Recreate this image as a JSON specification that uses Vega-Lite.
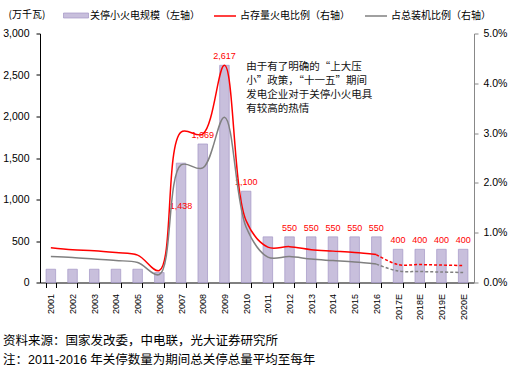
{
  "$schema": "https://vega.github.io/schema/vega-lite/v6.json",
  "width": 434,
  "height": 249,
  "autosize": {"type": "none"},
  "padding": {"left": 40, "top": 33.5, "right": 38, "bottom": 92.5},
  "background": "white",
  "config": {
    "view": {"stroke": null},
    "font": "Liberation Sans",
    "axis": {"grid": false, "labelColor": "#000", "labelFont": "Liberation Sans"},
    "legend": {"padding": 0}
  },
  "title": {
    "text": ["资料来源：国家发改委，中电联，光大证券研究所", "注：2011-2016 年关停数量为期间总关停总量平均至每年"],
    "orient": "bottom",
    "anchor": "start",
    "frame": "group",
    "dx": -37,
    "offset": 15.5,
    "lineHeight": 18.5,
    "font": "Liberation Sans, Noto Sans CJK SC",
    "fontSize": 12.5,
    "fontWeight": "normal",
    "color": "#000"
  },
  "data": {
    "values": [
      {"year": "2001", "cap": 160, "thermal": 0.0070, "total": 0.0052},
      {"year": "2002", "cap": 160, "thermal": 0.0066, "total": 0.0050},
      {"year": "2003", "cap": 160, "thermal": 0.0064, "total": 0.0047},
      {"year": "2004", "cap": 160, "thermal": 0.0060, "total": 0.0044},
      {"year": "2005", "cap": 160, "thermal": 0.0055, "total": 0.0040},
      {"year": "2006", "cap": 120, "thermal": 0.0024, "total": 0.0016},
      {"year": "2007", "cap": 1438, "thermal": 0.0302, "total": 0.0236},
      {"year": "2008", "cap": 1669, "thermal": 0.0298, "total": 0.0230},
      {"year": "2009", "cap": 2617, "thermal": 0.0436, "total": 0.0332},
      {"year": "2010", "cap": 1100, "thermal": 0.0124, "total": 0.0111},
      {"year": "2011", "cap": 550, "thermal": 0.0071, "total": 0.0051},
      {"year": "2012", "cap": 550, "thermal": 0.0072, "total": 0.0052},
      {"year": "2013", "cap": 550, "thermal": 0.0066, "total": 0.0047},
      {"year": "2014", "cap": 550, "thermal": 0.0063, "total": 0.0044},
      {"year": "2015", "cap": 550, "thermal": 0.0060, "total": 0.0041},
      {"year": "2016", "cap": 550, "thermal": 0.0056, "total": 0.0037},
      {"year": "2017E", "cap": 400, "thermal": 0.0036, "total": 0.0023},
      {"year": "2018E", "cap": 400, "thermal": 0.0036, "total": 0.0022},
      {"year": "2019E", "cap": 400, "thermal": 0.0035, "total": 0.0021},
      {"year": "2020E", "cap": 400, "thermal": 0.0034, "total": 0.0020}
    ]
  },
  "layer": [
    {
      "layer": [
        {
          "mark": {"type": "bar", "stroke": "#a497c6", "strokeWidth": 0.7},
          "encoding": {
            "x": {
              "field": "year",
              "type": "ordinal",
              "scale": {"paddingInner": 0.56, "paddingOuter": 0.28},
              "axis": {
                "title": null,
                "labelAngle": -90,
                "labelFontSize": 9,
                "tickBand": "extent",
                "tickSize": 5,
                "labelPadding": 6,
                "domainColor": "#000",
                "tickColor": "#000"
              }
            },
            "y": {
              "field": "cap",
              "type": "quantitative",
              "scale": {"domain": [0, 3000]},
              "axis": {
                "title": "(万千瓦)",
                "titleAngle": 0,
                "titleX": -32,
                "titleY": -19.5,
                "titleAlign": "left",
                "titleBaseline": "middle",
                "titleFont": "Noto Sans CJK SC",
                "titleFontSize": 10,
                "titleFontWeight": "normal",
                "titleColor": "#000",
                "values": [0, 500, 1000, 1500, 2000, 2500, 3000],
                "format": ",.0f",
                "labelFontSize": 10.5,
                "tickSize": 4,
                "labelPadding": 7,
                "domainColor": "#000",
                "tickColor": "#000"
              }
            },
            "fill": {
              "datum": "关停小火电规模（左轴）",
              "type": "nominal",
              "scale": {"range": ["#c8bfdc"]},
              "legend": {
                "orient": "none",
                "legendX": 23,
                "legendY": -31,
                "title": null,
                "symbolType": "M-1,-0.2H1V0.2H-1Z",
                "symbolSize": 625,
                "symbolStrokeColor": "#a497c6",
                "symbolStrokeWidth": 0.7,
                "labelFont": "Noto Sans CJK SC",
                "labelFontSize": 10,
                "labelColor": "#000",
                "labelOffset": 1
              }
            }
          }
        },
        {
          "transform": [{"filter": {"field": "year", "oneOf": ["2008", "2009", "2010", "2012", "2013", "2014", "2015", "2016", "2017E", "2018E", "2019E", "2020E"]}}],
          "mark": {"type": "text", "color": "#ff0000", "fontSize": 9, "baseline": "bottom", "dy": -4},
          "encoding": {
            "x": {"field": "year", "type": "ordinal"},
            "y": {"field": "cap", "type": "quantitative"},
            "text": {"field": "cap", "type": "quantitative", "format": ","}
          }
        },
        {
          "transform": [{"filter": {"field": "year", "equal": "2007"}}],
          "mark": {"type": "text", "color": "#ff0000", "fontSize": 9, "baseline": "middle", "dy": 43},
          "encoding": {
            "x": {"field": "year", "type": "ordinal"},
            "y": {"field": "cap", "type": "quantitative"},
            "text": {"field": "cap", "type": "quantitative", "format": ","}
          }
        },
        {
          "data": {"values": [{}]},
          "mark": {
            "type": "text",
            "text": ["由于有了明确的“上大压", "小”政策，“十一五”期间", "发电企业对于关停小火电具", "有较高的热情"],
            "align": "left",
            "baseline": "top",
            "lineHeight": 14,
            "font": "Noto Sans CJK SC",
            "fontSize": 10.5,
            "color": "#111"
          },
          "encoding": {
            "x": {"datum": "2010", "type": "ordinal"},
            "y": {"datum": 2660, "type": "quantitative"}
          }
        }
      ]
    },
    {
      "transform": [{"fold": ["thermal", "total"], "as": ["series", "value"]}],
      "layer": [
        {
          "transform": [{"filter": {"field": "year", "oneOf": ["2001", "2002", "2003", "2004", "2005", "2006", "2007", "2008", "2009", "2010", "2011", "2012", "2013", "2014", "2015", "2016"]}}],
          "mark": {"type": "line", "interpolate": "catmull-rom", "strokeWidth": 1.5},
          "encoding": {
            "x": {"field": "year", "type": "ordinal"},
            "y": {
              "field": "value",
              "type": "quantitative",
              "scale": {"domain": [0, 0.05]},
              "axis": {
                "orient": "right",
                "title": null,
                "values": [0, 0.005, 0.01, 0.015, 0.02, 0.025, 0.03, 0.035, 0.04, 0.045, 0.05],
                "format": ".1%",
                "labelFontSize": 10.5,
                "tickSize": 4,
                "labelPadding": 5,
                "domainColor": "#888",
                "tickColor": "#888"
              }
            },
            "stroke": {
              "field": "series",
              "type": "nominal",
              "scale": {"domain": ["thermal", "total"], "range": ["#ff0000", "#808080"]},
              "legend": {
                "orient": "none",
                "direction": "horizontal",
                "legendX": 173,
                "legendY": -29.5,
                "title": null,
                "symbolType": "stroke",
                "symbolSize": 484,
                "symbolStrokeWidth": 1.5,
                "labelFont": "Noto Sans CJK SC",
                "labelFontSize": 10,
                "labelColor": "#000",
                "labelOffset": 3,
                "columnPadding": 12,
                "labelExpr": "datum.label == 'thermal' ? '占存量火电比例（右轴）' : '占总装机比例（右轴）'"
              }
            }
          }
        },
        {
          "transform": [{"filter": {"field": "year", "oneOf": ["2016", "2017E", "2018E", "2019E", "2020E"]}}],
          "mark": {"type": "line", "interpolate": "catmull-rom", "strokeWidth": 1.5, "strokeDash": [3, 2]},
          "encoding": {
            "x": {"field": "year", "type": "ordinal"},
            "y": {"field": "value", "type": "quantitative"},
            "stroke": {"field": "series", "type": "nominal"}
          }
        }
      ]
    }
  ],
  "resolve": {"scale": {"y": "independent"}}
}
